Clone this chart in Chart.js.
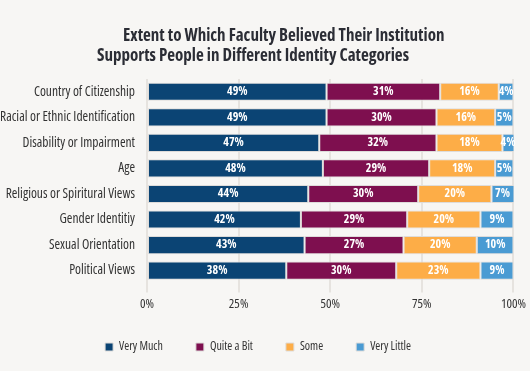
<!DOCTYPE html>
<html>
<head>
<meta charset="utf-8">
<script src="https://cdn.jsdelivr.net/npm/chart.js@4.4.1/dist/chart.umd.min.js"></script>
<style>
  html, body { margin: 0; padding: 0; background: #f7f6f4; }
  #wrap { width: 530px; height: 371px; position: relative; }
</style>
</head>
<body>
<div id="wrap"><canvas id="c1"></canvas></div>
<script>
var categories = ['Country of Citizenship', 'Racial or Ethnic Identification', 'Disability or Impairment', 'Age',
  'Religious or Spiritural Views', 'Gender Identitiy', 'Sexual Orientation', 'Political Views'];
var veryMuch   = [49, 49, 47, 48, 44, 42, 43, 38];
var quiteABit  = [31, 30, 32, 29, 30, 29, 27, 30];
var some       = [16, 16, 18, 18, 20, 20, 20, 23];
var veryLittle = [4, 5, 4, 5, 7, 9, 10, 9];
var xTicks = [0, 25, 50, 75, 100];
var titleLines = ['Extent to Which Faculty Believed Their Institution', 'Supports People in Different Identity Categories'];

// narrow look: Open Sans with the condensed stretch
var FONT = '"Open Sans"';

// title drawn by hand so the two lines sit like the original
var titlePlugin = {
  id: 'titleLines',
  afterDraw: function(chart) {
    var ctx = chart.ctx;
    ctx.save();
    ctx.font = 'bold condensed 17px ' + FONT;
    ctx.fillStyle = '#2b2d35';
    ctx.textBaseline = 'middle';
    ctx.textAlign = 'left';
    ctx.fillText(titleLines[0], 123, 36);
    ctx.fillText(titleLines[1], 97, 56);
    ctx.restore();
  }
};

// legend padding is big (for the wide gaps), so pull it up a bit
var legendNudge = {
  id: 'legendNudge',
  afterLayout: function(chart) {
    chart.legend.top -= 8;
    chart.legend.bottom -= 8;
  }
};

// white % labels inside the segments
var valueLabels = {
  id: 'valueLabels',
  afterDatasetsDraw: function(chart) {
    var ctx = chart.ctx;
    ctx.save();
    ctx.font = 'bold condensed 12px ' + FONT;
    ctx.fillStyle = '#ffffff';
    ctx.textAlign = 'center';
    ctx.textBaseline = 'middle';
    chart.data.datasets.forEach(function(ds, i) {
      chart.getDatasetMeta(i).data.forEach(function(bar, j) {
        var p = bar.getProps(['x', 'y', 'base'], true);
        var right = Math.min(p.x, chart.chartArea.right);
        ctx.fillText(ds.data[j] + '%', (p.base + right) / 2, p.y);
      });
    });
    ctx.restore();
  }
};

function ds(label, data, color) {
  return {
    label: label, data: data, backgroundColor: color,
    borderColor: '#dedcda', borderWidth: 1, borderSkipped: false,
    barPercentage: 0.71, categoryPercentage: 1
  };
}

var ctx = document.getElementById('c1').getContext('2d');
var chart1 = new Chart(ctx, {
  type: 'bar',
  data: {
    labels: categories,
    datasets: [
      ds('Very Much', veryMuch, '#0b4474'),
      ds('Quite a Bit', quiteABit, '#7e0f4f'),
      ds('Some', some, '#fdad47'),
      ds('Very Little', veryLittle, '#4a9bd3')
    ]
  },
  options: {
    indexAxis: 'y',
    responsive: true,
    maintainAspectRatio: false,
    animation: false,
    layout: { padding: { top: 79, right: 14, bottom: 0, left: 0 } },
    scales: {
      x: {
        stacked: true, min: 0, max: 100,
        afterBuildTicks: function(scale) { scale.ticks = xTicks.map(function(v) { return { value: v }; }); },
        grid: { color: '#e6e3df', lineWidth: 2, tickLength: 9, drawTicks: true },
        border: { display: false },
        ticks: { padding: 4, color: '#333', font: { family: FONT, weight: 'condensed', size: 13 }, callback: function(v) { return v + '%'; } }
      },
      y: {
        stacked: true,
        afterFit: function(scale) { scale.width = 147; },
        grid: { display: false },
        border: { display: false },
        ticks: { padding: 4, color: '#333', font: { family: FONT, weight: 'condensed', size: 13.5 } }
      }
    },
    plugins: {
      legend: {
        position: 'bottom',
        align: 'center',
        labels: { boxWidth: 8, boxHeight: 8, padding: 33, color: '#333', font: { family: FONT, weight: 'condensed', size: 12 } }
      },
      tooltip: { enabled: false }
    }
  },
  plugins: [titlePlugin, legendNudge, valueLabels]
});
</script>
</body>
</html>
